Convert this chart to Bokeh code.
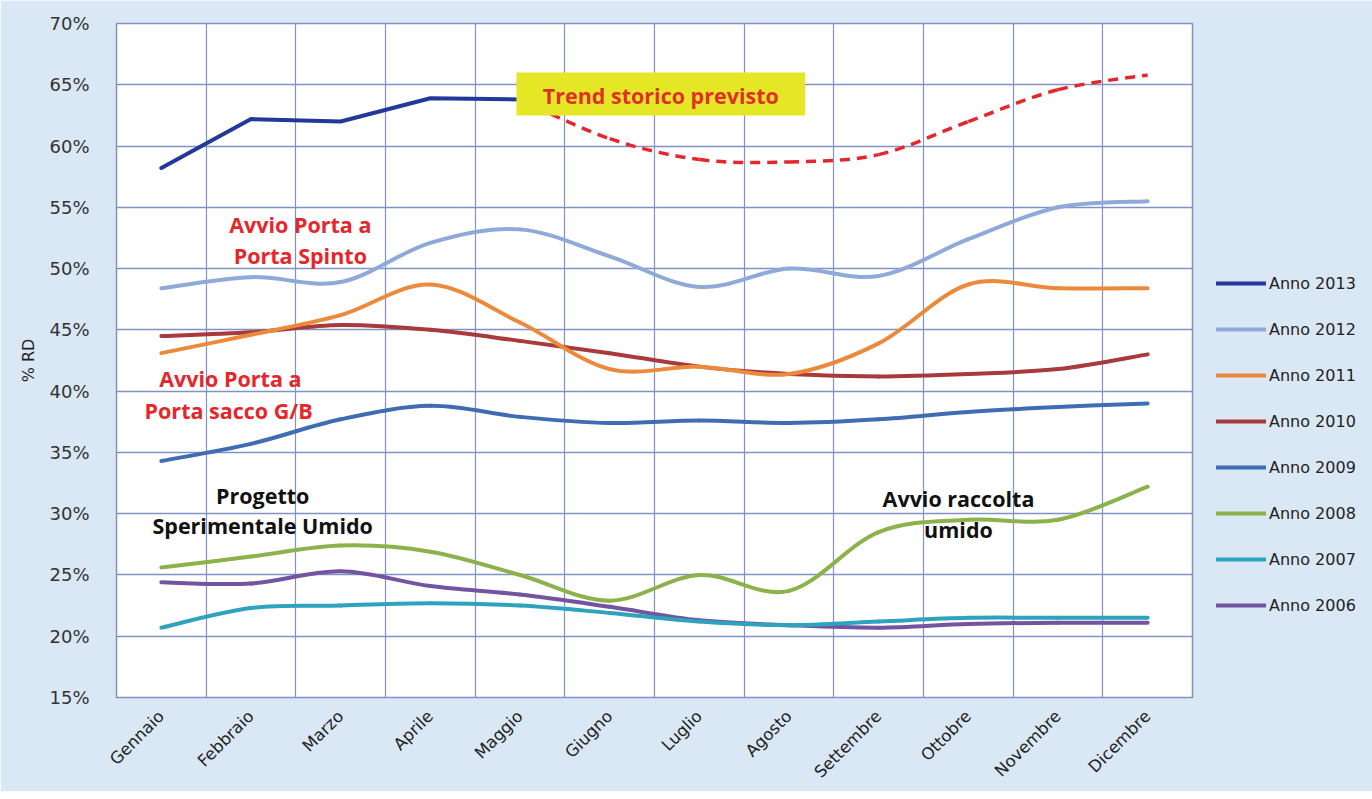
from math import pi
from bokeh.plotting import figure
from bokeh.models import FixedTicker, Legend, LegendItem, Label, BoxAnnotation, Range1d
from bokeh.embed import file_html
from bokeh.resources import INLINE

# ---------------- data ----------------
months = ["Gennaio", "Febbraio", "Marzo", "Aprile", "Maggio", "Giugno",
          "Luglio", "Agosto", "Settembre", "Ottobre", "Novembre", "Dicembre"]
y_ticks = [15, 20, 25, 30, 35, 40, 45, 50, 55, 60, 65, 70]

anno_2013 = [58.2, 62.2, 62.0, 63.9, 63.8]                       # Gennaio..Maggio
trend_previsto = [63.8, 60.6, 58.9, 58.7, 59.3, 62.0, 64.6, 65.8]  # Maggio..Dicembre
anno_2012 = [48.4, 49.3, 48.9, 52.1, 53.2, 51.0, 48.5, 50.0, 49.4, 52.4, 55.0, 55.5]
anno_2011 = [43.1, 44.6, 46.2, 48.7, 45.6, 41.8, 42.0, 41.4, 43.9, 48.7, 48.4, 48.4]
anno_2010 = [44.5, 44.8, 45.4, 45.0, 44.1, 43.1, 42.0, 41.4, 41.2, 41.4, 41.8, 43.0]
anno_2009 = [34.3, 35.7, 37.7, 38.8, 37.9, 37.4, 37.6, 37.4, 37.7, 38.3, 38.7, 39.0]
anno_2008 = [25.6, 26.5, 27.4, 26.9, 25.0, 22.9, 25.0, 23.7, 28.5, 29.5, 29.5, 32.2]
anno_2007 = [20.7, 22.3, 22.5, 22.7, 22.5, 21.9, 21.2, 20.9, 21.2, 21.5, 21.5, 21.5]
anno_2006 = [24.4, 24.3, 25.3, 24.1, 23.4, 22.4, 21.3, 20.9, 20.7, 21.0, 21.1, 21.1]

series_names = ["Anno 2013", "Anno 2012", "Anno 2011", "Anno 2010",
                "Anno 2009", "Anno 2008", "Anno 2007", "Anno 2006"]
series_colors = ["#22399A", "#8FA9D9", "#EC8A3C", "#A83A3C",
                 "#3F6CB2", "#8CB24B", "#2EA3BD", "#7453A0"]

# ---------------- figure ----------------
p = figure(frame_width=1076, frame_height=674, output_backend="svg", toolbar_location=None,
           x_range=Range1d(-0.5, 11.5), y_range=Range1d(15, 70),
           min_border_left=116, min_border_right=0, min_border_top=23, min_border_bottom=86)
p.border_fill_color = "#DAE7F4"
p.background_fill_color = "white"
p.outline_line_color = "#7F93C2"
p.outline_line_width = 1.5

xs = list(range(len(months)))

# axes
p.xaxis.ticker = FixedTicker(ticks=xs)
p.xaxis.major_label_overrides = {i: m for i, m in enumerate(months)}
p.xaxis.major_label_orientation = pi / 4
p.xaxis.major_label_text_font = "DejaVu Sans"
p.xaxis.major_label_text_font_size = "16.5px"
p.xaxis.major_label_text_color = "#222222"
p.xaxis.major_label_standoff = 10
p.xaxis.axis_line_color = None
p.xaxis.major_tick_line_color = None
p.xaxis.minor_tick_line_color = None

p.yaxis.ticker = FixedTicker(ticks=y_ticks)
p.yaxis.major_label_overrides = {t: f"{t}%" for t in y_ticks}
p.yaxis.major_label_text_font = "DejaVu Sans"
p.yaxis.major_label_text_font_size = "18px"
p.yaxis.major_label_text_color = "#333333"
p.yaxis.major_label_standoff = 21
p.yaxis.axis_line_color = None
p.yaxis.major_tick_line_color = None
p.yaxis.minor_tick_line_color = None
p.yaxis.axis_label = "% RD"
p.yaxis.axis_label_text_font = "DejaVu Sans"
p.yaxis.axis_label_text_font_style = "normal"
p.yaxis.axis_label_text_font_size = "16px"
p.yaxis.axis_label_text_color = "#222222"
p.yaxis.axis_label_standoff = 8

p.xgrid.ticker = FixedTicker(ticks=[i - 0.5 for i in range(len(months) + 1)])
p.xgrid.grid_line_color = "#7F93C2"
p.xgrid.grid_line_width = 1.2
p.ygrid.grid_line_color = "#7F93C2"
p.ygrid.grid_line_width = 1.5

# yellow annotation box (under lines)
box = BoxAnnotation(left=3.96, right=7.18, bottom=62.5, top=66.0,
                    fill_color="#E4E626", fill_alpha=1.0, line_color=None, level="glyph")
p.add_layout(box)


def smooth(x, y, k=1.0 / 6.0):
    n = len(x)
    out = dict(x0=[], y0=[], x1=[], y1=[], cx0=[], cy0=[], cx1=[], cy1=[])
    for i in range(n - 1):
        a = max(i - 1, 0)
        d = min(i + 2, n - 1)
        out["x0"].append(x[i]); out["y0"].append(y[i])
        out["x1"].append(x[i + 1]); out["y1"].append(y[i + 1])
        out["cx0"].append(x[i] + (x[i + 1] - x[a]) * k)
        out["cy0"].append(y[i] + (y[i + 1] - y[a]) * k)
        out["cx1"].append(x[i + 1] - (x[d] - x[i]) * k)
        out["cy1"].append(y[i + 1] - (y[d] - y[i]) * k)
    return out


renderers = {}
smooth_series = [("Anno 2006", anno_2006), ("Anno 2007", anno_2007), ("Anno 2008", anno_2008),
                 ("Anno 2009", anno_2009), ("Anno 2010", anno_2010), ("Anno 2011", anno_2011),
                 ("Anno 2012", anno_2012)]
for name, vals in smooth_series:
    col = series_colors[series_names.index(name)]
    r = p.bezier(line_color=col, line_width=4, line_cap="round", **smooth(xs, vals))
    renderers[name] = r

# 2013: straight segments
r13 = p.line(xs[:len(anno_2013)], anno_2013, line_color=series_colors[0], line_width=4,
             line_join="round", line_cap="round")
renderers["Anno 2013"] = r13

# forecast trend (dashed red)
trend_x = xs[len(anno_2013) - 1:]
p.bezier(line_color="#E5262B", line_width=3.5, line_dash="10 7", **smooth(trend_x, trend_previsto))

# legend in the right side panel
items = [LegendItem(label=n, renderers=[renderers[n]]) for n in series_names]
legend = Legend(items=items, location=(24, 82), orientation="vertical",
                background_fill_alpha=0, border_line_color=None,
                label_text_font="DejaVu Sans", label_text_font_size="16px",
                label_text_color="#222222", glyph_width=50, glyph_height=20,
                label_height=20, label_standoff=3, spacing=26, padding=0, margin=0)
p.add_layout(legend, "right")

# text annotations
red = "#E5262B"


def add_label(x, y, text, color, size="21.5px"):
    p.add_layout(Label(x=x, y=y, text=text, text_color=color, text_font="Open Sans",
                       text_font_style="bold", text_font_size=size,
                       text_align="center", text_baseline="middle"))


add_label(5.57, 64.15, "Trend storico previsto", "#E0302A")
add_label(1.55, 53.6, "Avvio Porta a", red)
add_label(1.55, 51.05, "Porta Spinto", red)
add_label(0.77, 41.0, "Avvio Porta a", red)
add_label(0.75, 38.45, "Porta sacco G/B", red)
add_label(1.13, 31.5, "Progetto", "#111111")
add_label(1.13, 29.0, "Sperimentale Umido", "#111111")
add_label(8.89, 31.2, "Avvio raccolta", "#111111")
add_label(8.89, 28.75, "umido", "#111111")

open("out.html", "w").write(file_html(p, INLINE))
